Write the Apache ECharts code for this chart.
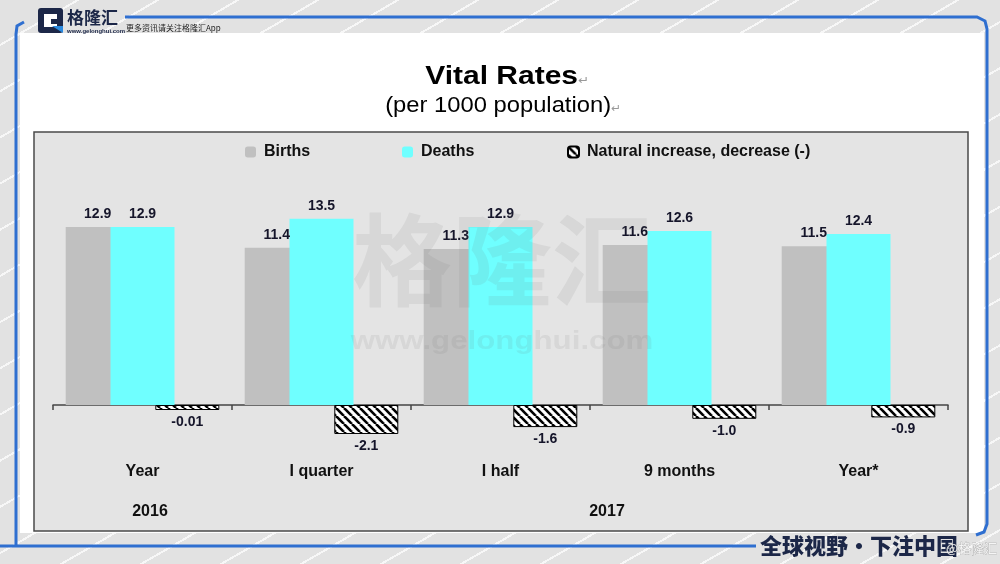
<!DOCTYPE html>
<html>
<head>
<meta charset="utf-8">
<script src="https://cdn.jsdelivr.net/npm/echarts@6/dist/echarts.min.js"></script>
<style>
html, body { margin: 0; padding: 0; }
body {
  width: 1000px; height: 564px; overflow: hidden;
  background: repeating-linear-gradient(150deg, #e2e2e2 0 38px, #f7f7f7 38px 40px);
}
#chart { width: 1000px; height: 564px; }
</style>
</head>
<body>
<div id="chart"></div>
<script>
const categories = ['Year', 'I quarter', 'I half', '9 months', 'Year*']
const yearLabels = ['2016', '2017']
const births = [12.9, 11.4, 11.3, 11.6, 11.5]
const deaths = [12.9, 13.5, 12.9, 12.6, 12.4]
const naturalChange = [-0.01, -2.1, -1.6, -1.0, -0.9]

const FONT = '"Liberation Sans", Arial, sans-serif'
const CJK = '"Noto Sans CJK SC", sans-serif'
const COL_BIRTHS = '#c0c0c0'
const COL_DEATHS = '#6fffff'
const BLUE = '#2f6fd0'
const NAVY = '#1c2748'
const TEXT = '#15152a'

// black-on-white diagonal hatch for the natural change bars
function hatch() {
  const c = document.createElement('canvas')
  c.width = 8; c.height = 8
  const g = c.getContext('2d')
  g.fillStyle = '#fff'
  g.fillRect(0, 0, 8, 8)
  g.strokeStyle = '#000'
  g.lineWidth = 2.6
  for (const o of [-8, 0, 8]) {
    g.beginPath(); g.moveTo(o, 0); g.lineTo(o + 8, 8); g.stroke()
  }
  return c
}

const fmt = (p) => Math.abs(p.value) < 0.1 ? p.value.toFixed(2) : p.value.toFixed(1)
const labelStyle = { show: true, fontSize: 14, fontWeight: 'bold', color: TEXT, fontFamily: FONT, formatter: fmt }

function makeSeries(name, vals, itemStyle, pos) {
  return {
    name,
    type: 'bar',
    data: vals,
    barWidth: 64,
    barGap: '-30%',
    barMinHeight: pos === 'bottom' ? 5 : 0,
    itemStyle,
    label: { ...labelStyle, position: pos, distance: pos === 'bottom' ? 5 : 6 },
  }
}

const legendText = { fontSize: 16, fontWeight: 'bold', color: '#111', fontFamily: FONT, padding: [0, 0, 0, 3] }
const makeLegend = (name, left) => ({
  data: [name], left, top: 139, itemWidth: 11, itemHeight: 11,
  textStyle: legendText, selectedMode: false,
})

const yearX = [150, 607]

const graphics = [
  // white card + plot box
  { type: 'rect', z: -20, shape: { x: 20, y: 33, width: 964, height: 500 }, style: { fill: '#fff' } },
  { type: 'rect', z: -19, shape: { x: 34, y: 132, width: 934, height: 399 }, style: { fill: '#e4e4e4', stroke: '#4a4a4a', lineWidth: 1.5 } },
  // blue frame
  { type: 'polyline', z: -18, shape: { points: [[24, 22], [17, 26], [16, 34], [16, 545]] }, style: { stroke: BLUE, lineWidth: 3, fill: null } },
  { type: 'polyline', z: -18, shape: { points: [[0, 546], [756, 546]] }, style: { stroke: BLUE, lineWidth: 3, fill: null } },
  { type: 'polyline', z: -18, shape: { points: [[125, 17], [977, 17], [985, 21], [987, 29], [987, 524], [984, 532], [976, 535]] }, style: { stroke: BLUE, lineWidth: 3, fill: null } },
  // logo
  { type: 'rect', z: -17, shape: { x: 38, y: 8, width: 25, height: 25, r: 3 }, style: { fill: NAVY } },
  { type: 'rect', z: -17, shape: { x: 44, y: 14, width: 13, height: 13 }, style: { fill: '#fff' } },
  { type: 'rect', z: -17, shape: { x: 51, y: 19, width: 12, height: 5 }, style: { fill: NAVY } },
  { type: 'polygon', z: -17, shape: { points: [[52, 26], [63, 26], [63, 33]] }, style: { fill: '#2a8ae0' } },
  { type: 'text', z: -17, x: 67, y: 18, style: { text: '格隆汇', font: `bold 17px ${CJK}`, fill: NAVY, verticalAlign: 'middle' } },
  { type: 'text', z: -17, x: 67, y: 31, style: { text: 'www.gelonghui.com', font: `bold 6px ${FONT}`, fill: NAVY, verticalAlign: 'middle' } },
  { type: 'text', z: -17, x: 126, y: 28, style: { text: '更多资讯请关注格隆汇App', font: `8px ${CJK}`, fill: '#222', verticalAlign: 'middle' } },
  // titles
  { type: 'text', x: 507, y: 77, scaleX: 1.2, style: {
    text: 'Vital Rates{r|↵}', font: `bold 25px ${FONT}`, fill: '#000', align: 'center', verticalAlign: 'middle',
    rich: { r: { fontSize: 11, fontFamily: FONT, fill: '#999', padding: [8, 0, 0, 0] } } } },
  { type: 'text', x: 503, y: 106, scaleX: 1.08, style: {
    text: '(per 1000 population){r|↵}', font: `22px ${FONT}`, fill: '#000', align: 'center', verticalAlign: 'middle',
    rich: { r: { fontSize: 11, fontFamily: FONT, fill: '#999', padding: [6, 0, 0, 0] } } } },
  // year labels under the categories
  ...yearLabels.map((t, i) => ({ type: 'text', x: yearX[i], y: 512, style: {
    text: t, font: `bold 16px ${FONT}`, fill: '#111', align: 'center', verticalAlign: 'middle' } })),
  // watermark
  { type: 'text', z: 100, x: 502, y: 260, style: { text: '格隆汇', font: `bold 100px ${CJK}`, fill: 'rgba(110,110,110,0.11)', align: 'center', verticalAlign: 'middle' } },
  { type: 'text', z: 100, x: 502, y: 342, scaleX: 1.25, style: { text: 'www.gelonghui.com', font: `bold 25px ${FONT}`, fill: 'rgba(110,110,110,0.11)', align: 'center', verticalAlign: 'middle' } },
  // footer slogan
  { type: 'text', x: 760, y: 546, style: { text: '全球视野・下注中国', font: `900 22px ${CJK}`, fill: NAVY, verticalAlign: 'middle' } },
  { type: 'text', x: 946, y: 548, style: { text: '@格隆汇', font: `13px ${CJK}`, fill: 'rgba(255,255,255,0.85)', stroke: 'rgba(120,120,120,0.6)', lineWidth: 0.6, verticalAlign: 'middle' } },
]

const chart = echarts.init(document.getElementById('chart'))
chart.setOption({
  animation: false,
  textStyle: { fontFamily: FONT },
  legend: [
    makeLegend('Births', 240),
    makeLegend('Deaths', 397),
    makeLegend('Natural increase, decrease (-)', 562),
  ],
  grid: { left: 53, right: 52, top: 198, bottom: 90 },
  xAxis: {
    type: 'category',
    data: categories,
    axisLine: { onZero: true, lineStyle: { color: '#444', width: 1.5 } },
    axisTick: { show: true, length: 5, lineStyle: { color: '#444', width: 1.5 } },
    axisLabel: { margin: -10, fontSize: 16, fontWeight: 'bold', color: '#111', fontFamily: FONT },
  },
  yAxis: { type: 'value', min: -5, max: 15, show: false, splitLine: { show: false } },
  series: [
    makeSeries('Births', births, { color: COL_BIRTHS }, 'top'),
    makeSeries('Deaths', deaths, { color: COL_DEATHS }, 'top'),
    makeSeries('Natural increase, decrease (-)', naturalChange,
      { color: { image: hatch(), repeat: 'repeat' }, borderColor: '#000', borderWidth: 1 }, 'bottom'),
  ],
  graphic: graphics,
})
</script>
</body>
</html>
